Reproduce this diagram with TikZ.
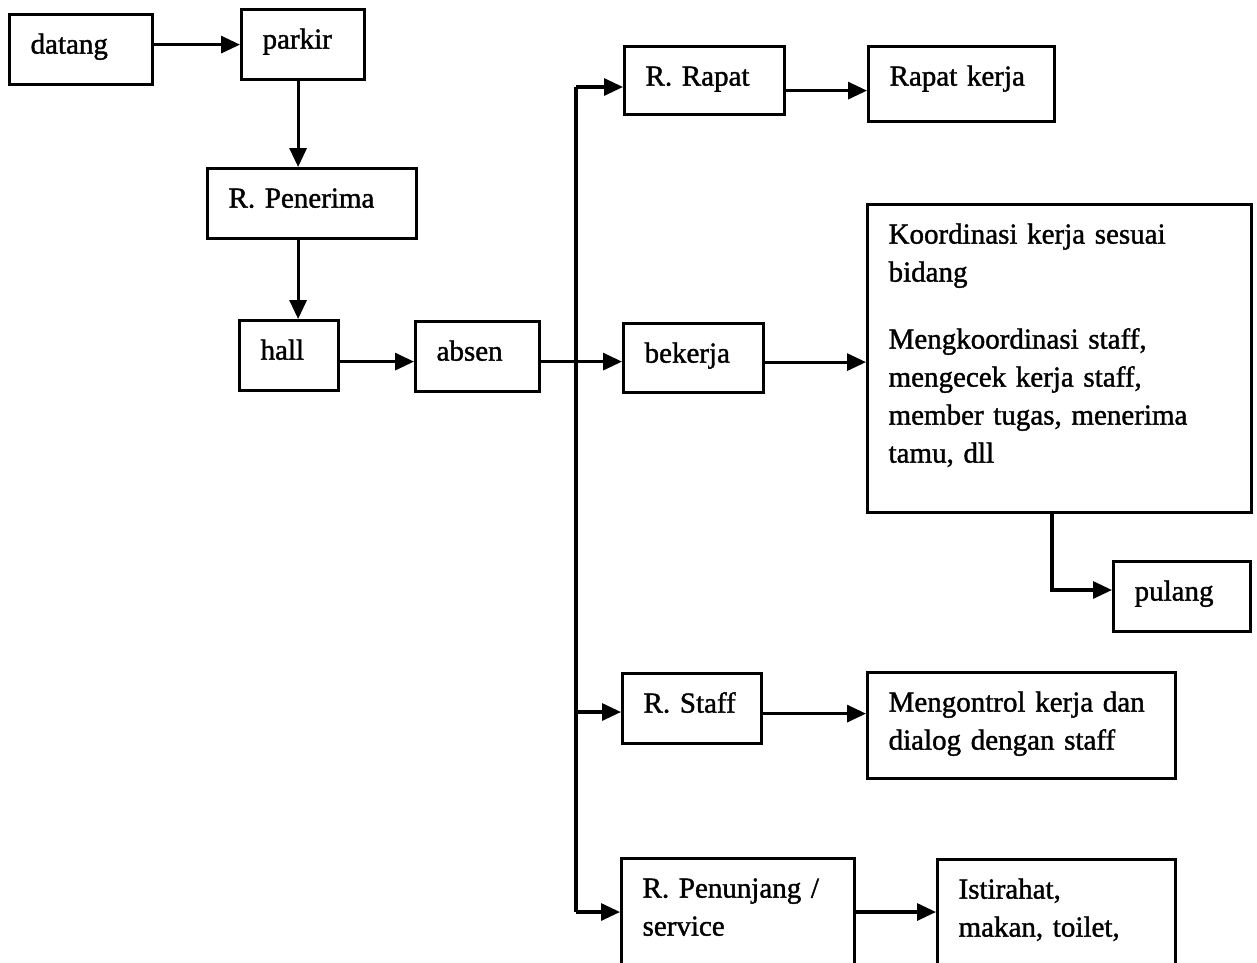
\documentclass[tikz,border=0pt]{standalone}
\usepackage{fontspec}
\setmainfont{Liberation Serif}[FakeBold=1.3]
\usetikzlibrary{arrows.meta}
\tikzset{
  box/.style 2 args={draw, line width=3.2pt, anchor=north west, inner xsep=21pt, inner ysep=0pt,
    text height=39pt, text width=#1, text depth=#2, align=left,
    font=\fontsize{29}{38}\selectfont},
  conn/.style={line width=3.2pt},
  arr/.style={conn, -{Triangle[length=19pt,width=17pt]}},
}
\begin{document}
\begin{tikzpicture}[x=1pt,y=-1pt]
\useasboundingbox (0,0) rectangle (1257,962);
\clip (0,0) rectangle (1257,962);
\fill[white] (0,0) rectangle (1257,962);

\node[box={101pt}{31pt}] (datang) at (8,13) {datang};
\node[box={81pt}{31pt}] (parkir) at (240,8) {parkir};
\node[box={167pt}{31pt}] (penerima) at (206,167) {R. Penerima};
\node[box={57pt}{31pt}] (hall) at (238,319) {hall};
\node[box={82pt}{31pt}] (absen) at (414,320) {absen};
\node[box={118pt}{29pt}] (rrapat) at (623,45) {R. Rapat};
\node[box={144pt}{36pt}] (rkerja) at (867,45) {Rapat kerja};
\node[box={98pt}{30pt}] (bekerja) at (622,322) {bekerja};
\node[box={342pt}{269pt}] (koord) at (866,203) {Koordinasi kerja sesuai\\ bidang\\[29pt] Mengkoordinasi staff,\\ mengecek kerja staff,\\ member tugas, menerima\\ tamu, dll};
\node[box={95pt}{31pt}] (pulang) at (1112,560) {pulang};
\node[box={97pt}{31pt}] (rstaff) at (621,672) {R. Staff};
\node[box={266pt}{67pt}] (kontrol) at (866,671) {Mengontrol kerja dan\\ dialog dengan staff};
\node[box={191pt}{94pt}] (penunjang) at (620,857) {R. Penunjang /\\ service};
\node[box={196pt}{94pt}] (istirahat) at (936,858) {Istirahat,\\ makan, toilet,};

% left chain
\draw[arr] (datang.east |- parkir.west) -- (parkir.west);
\draw[arr] ([xshift=-5pt]parkir.south) -- ([xshift=-5pt]parkir.south |- penerima.north);
\draw[arr] ([xshift=-5pt]parkir.south |- penerima.south) -- ([xshift=-5pt]parkir.south |- hall.north);
\draw[arr] ([yshift=-6pt]hall.east) -- ([yshift=-6pt]hall.east -| absen.west);

% trunk
\coordinate (tTop) at (576,87);
\coordinate (tStaff) at (576,712);
\coordinate (tBot) at (576,912);
\draw[conn] (tTop) -- (tBot);
\draw[arr] ([yshift=-5pt]absen.east) -- ([yshift=-5pt]absen.east -| bekerja.west);
\draw[arr] (tTop) -- (tTop -| rrapat.west);
\draw[arr] (tStaff) -- (tStaff -| rstaff.west);
\draw[arr] (tBot) -- (tBot -| penunjang.west);

% right side
\draw[arr] ([yshift=-10pt]rrapat.east) -- ([yshift=-10pt]rrapat.east -| rkerja.west);
\draw[arr] ([yshift=-4pt]bekerja.east) -- ([yshift=-4pt]bekerja.east -| koord.west);
\draw[arr] ([yshift=-5pt]rstaff.east) -- ([yshift=-5pt]rstaff.east -| kontrol.west);
\draw[arr] (tBot -| penunjang.east) -- (tBot -| istirahat.west);
\coordinate (pc) at (1052,590);
\draw[arr] (pc |- koord.south) -- (pc) -- (pc -| pulang.west);
\end{tikzpicture}
\end{document}
